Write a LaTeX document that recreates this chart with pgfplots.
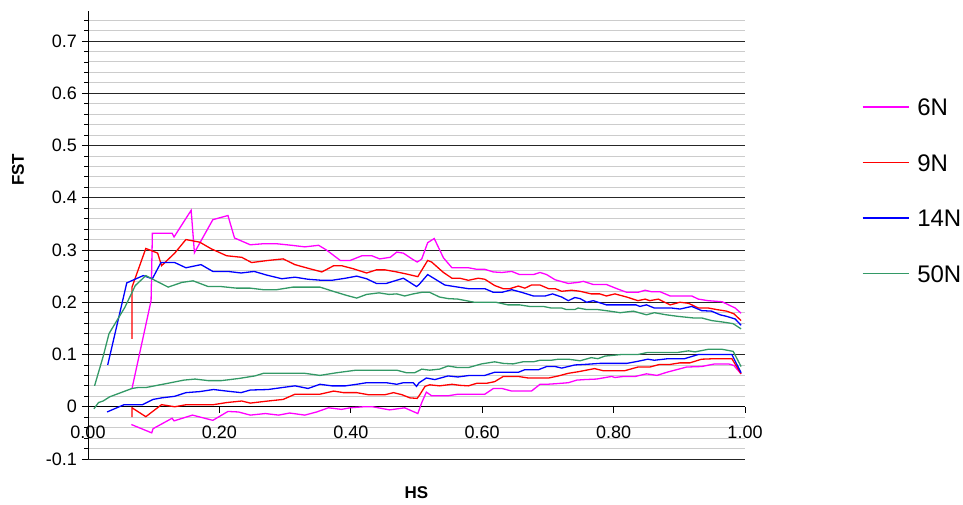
\documentclass[border=0pt]{standalone}
\usepackage{pgfplots}
\pgfplotsset{compat=1.18}
\usepackage{fontspec}
\setmainfont{Liberation Sans}
\definecolor{c6}{RGB}{255,0,255}
\definecolor{c9}{RGB}{255,0,0}
\definecolor{c14}{RGB}{0,0,255}
\definecolor{c50}{RGB}{51,153,102}
\begin{document}
\begin{tikzpicture}[x=1pt,y=1pt]
\path[use as bounding box] (0,0) rectangle (963,504);
\begin{axis}[
  at={(88pt,45pt)}, anchor=south west,
  scale only axis, width=657pt, height=448.3pt,
  xmin=0, xmax=1, ymin=-0.1, ymax=0.758,
  axis x line*=middle, axis y line*=left,
  hide obscured x ticks=false,
  xtick={0,0.2,0.4,0.6,0.8,1.0},
  ytick={-0.1,0,0.1,0.2,0.3,0.4,0.5,0.6,0.7},
  minor ytick={-0.08,-0.06,-0.04,-0.02,0.02,0.04,0.06,0.08,0.12,0.14,0.16,0.18,0.22,0.24,0.26,0.28,0.32,0.34,0.36,0.38,0.42,0.44,0.46,0.48,0.52,0.54,0.56,0.58,0.62,0.64,0.66,0.68,0.72,0.74},
  ymajorgrids, yminorgrids,
  major grid style={black!85, line width=0.8pt},
  minor grid style={black!20, line width=0.9pt},
  tick align=outside,
  major tick length=6pt, minor tick length=3.5pt,
  tick style={black, line width=0.8pt},
  axis line style={black, line width=0.8pt},
  /pgf/number format/assume math mode=true,
  ticklabel style={font=\fontsize{18}{21}\selectfont},
  xticklabel={\pgfmathprintnumber[fixed,fixed zerofill,precision=2]{\tick}},
  yticklabel={\pgfmathprintnumber[fixed]{\tick}},
  yticklabel style={anchor=east, xshift=-1.5pt},
  xticklabel style={anchor=north, yshift=-10pt},
  every axis x label/.style={at={(rel axis cs:0.5,0)}, anchor=center, yshift=-34pt, font=\bfseries\fontsize{17}{20}\selectfont},
  every axis y label/.style={at={(rel axis cs:-0.1065,0.645)}, anchor=center, rotate=90, font=\bfseries\fontsize{17}{20}\selectfont},
  xlabel={HS}, ylabel={FST},
  legend style={at={(rel axis cs:1.178,0.8046)}, anchor=north west, draw=none, fill=none, inner sep=0pt, outer sep=0pt,
    font=\fontsize{24}{28}\selectfont, row sep=38pt, column sep=8pt,
    nodes={inner sep=0pt, text height=17.5pt, text depth=0pt}},
  legend cell align=left,
  legend image code/.code={\draw[#1] (0pt,0pt) -- (46pt,0pt);},
  every axis plot/.append style={line width=1.3pt},
]
\addplot[c6] coordinates {(0.067,0.035) (0.096,0.203) (0.098,0.332) (0.128,0.332) (0.131,0.325) (0.157,0.376) (0.162,0.295) (0.190,0.358) (0.213,0.366) (0.223,0.323) (0.247,0.310) (0.267,0.312) (0.287,0.312) (0.310,0.309) (0.330,0.306) (0.351,0.309) (0.363,0.300) (0.384,0.280) (0.399,0.280) (0.417,0.289) (0.432,0.289) (0.444,0.283) (0.460,0.286) (0.470,0.296) (0.480,0.294) (0.493,0.283) (0.501,0.277) (0.505,0.280) (0.508,0.283) (0.517,0.314) (0.527,0.322) (0.541,0.285) (0.554,0.266) (0.579,0.266) (0.592,0.263) (0.604,0.263) (0.617,0.258) (0.630,0.257) (0.645,0.259) (0.657,0.253) (0.678,0.253) (0.688,0.257) (0.698,0.253) (0.711,0.243) (0.731,0.236) (0.746,0.238) (0.754,0.240) (0.769,0.234) (0.789,0.234) (0.807,0.225) (0.820,0.219) (0.837,0.219) (0.848,0.223) (0.858,0.220) (0.871,0.220) (0.886,0.212) (0.919,0.212) (0.929,0.206) (0.944,0.203) (0.965,0.201) (0.975,0.195) (0.985,0.189) (0.994,0.179)};
\addlegendentry{6N}
\addplot[c6, forget plot] coordinates {(0.066,-0.034) (0.097,-0.050) (0.099,-0.042) (0.128,-0.022) (0.131,-0.027) (0.159,-0.016) (0.190,-0.026) (0.213,-0.009) (0.229,-0.010) (0.247,-0.016) (0.270,-0.013) (0.290,-0.016) (0.307,-0.012) (0.330,-0.016) (0.348,-0.010) (0.366,-0.002) (0.386,-0.005) (0.399,-0.002) (0.420,0.000) (0.433,0.000) (0.459,-0.006) (0.482,-0.002) (0.502,-0.013) (0.508,0.008) (0.515,0.028) (0.523,0.021) (0.548,0.021) (0.563,0.024) (0.604,0.024) (0.617,0.035) (0.630,0.035) (0.645,0.030) (0.675,0.030) (0.688,0.043) (0.698,0.043) (0.711,0.044) (0.731,0.046) (0.744,0.051) (0.756,0.052) (0.774,0.053) (0.797,0.058) (0.802,0.056) (0.815,0.058) (0.833,0.058) (0.850,0.063) (0.866,0.060) (0.881,0.066) (0.896,0.071) (0.911,0.076) (0.934,0.077) (0.954,0.082) (0.975,0.082) (0.983,0.079) (0.994,0.063)};
\addplot[c9] coordinates {(0.067,0.130) (0.067,0.229) (0.088,0.303) (0.106,0.294) (0.112,0.270) (0.132,0.294) (0.149,0.320) (0.170,0.315) (0.188,0.302) (0.211,0.289) (0.234,0.286) (0.249,0.276) (0.274,0.280) (0.297,0.283) (0.315,0.272) (0.335,0.265) (0.356,0.258) (0.374,0.270) (0.386,0.270) (0.404,0.264) (0.424,0.256) (0.439,0.262) (0.452,0.262) (0.470,0.258) (0.485,0.254) (0.502,0.249) (0.517,0.280) (0.523,0.277) (0.541,0.257) (0.554,0.246) (0.566,0.246) (0.579,0.242) (0.594,0.246) (0.604,0.244) (0.619,0.232) (0.632,0.226) (0.642,0.226) (0.655,0.231) (0.665,0.227) (0.675,0.233) (0.688,0.233) (0.701,0.226) (0.711,0.226) (0.721,0.221) (0.736,0.223) (0.749,0.221) (0.766,0.216) (0.779,0.216) (0.789,0.212) (0.802,0.216) (0.820,0.210) (0.837,0.203) (0.848,0.206) (0.855,0.203) (0.868,0.206) (0.886,0.195) (0.901,0.200) (0.914,0.198) (0.929,0.189) (0.944,0.189) (0.957,0.186) (0.972,0.183) (0.983,0.178) (0.994,0.165)};
\addlegendentry{9N}
\addplot[c9, forget plot] coordinates {(0.067,-0.020) (0.067,-0.002) (0.088,-0.019) (0.112,0.004) (0.132,0.000) (0.150,0.004) (0.191,0.004) (0.211,0.008) (0.234,0.011) (0.247,0.007) (0.274,0.011) (0.297,0.014) (0.315,0.024) (0.353,0.024) (0.374,0.030) (0.389,0.027) (0.409,0.027) (0.427,0.023) (0.452,0.023) (0.465,0.027) (0.478,0.023) (0.490,0.017) (0.501,0.016) (0.505,0.023) (0.513,0.039) (0.520,0.042) (0.535,0.040) (0.554,0.043) (0.566,0.041) (0.579,0.040) (0.592,0.045) (0.607,0.045) (0.619,0.048) (0.632,0.058) (0.655,0.058) (0.670,0.055) (0.701,0.055) (0.716,0.059) (0.731,0.064) (0.746,0.067) (0.771,0.073) (0.784,0.069) (0.817,0.069) (0.837,0.076) (0.855,0.076) (0.870,0.081) (0.886,0.081) (0.901,0.084) (0.916,0.084) (0.934,0.091) (0.954,0.092) (0.980,0.092) (0.994,0.063)};
\addplot[c14] coordinates {(0.030,0.080) (0.059,0.237) (0.084,0.251) (0.098,0.245) (0.111,0.276) (0.132,0.276) (0.149,0.266) (0.172,0.272) (0.190,0.259) (0.213,0.259) (0.233,0.256) (0.253,0.259) (0.272,0.252) (0.295,0.245) (0.315,0.248) (0.335,0.244) (0.356,0.242) (0.371,0.242) (0.392,0.246) (0.409,0.250) (0.424,0.245) (0.439,0.236) (0.454,0.236) (0.480,0.246) (0.500,0.230) (0.504,0.234) (0.517,0.253) (0.543,0.233) (0.563,0.229) (0.579,0.226) (0.604,0.226) (0.617,0.219) (0.630,0.219) (0.645,0.224) (0.660,0.219) (0.678,0.212) (0.696,0.212) (0.707,0.216) (0.721,0.210) (0.731,0.203) (0.741,0.209) (0.749,0.207) (0.759,0.200) (0.769,0.203) (0.789,0.195) (0.834,0.195) (0.840,0.192) (0.850,0.195) (0.862,0.189) (0.888,0.189) (0.901,0.187) (0.919,0.192) (0.934,0.184) (0.949,0.183) (0.962,0.176) (0.972,0.173) (0.985,0.168) (0.994,0.156)};
\addlegendentry{14N}
\addplot[c14, forget plot] coordinates {(0.029,-0.010) (0.055,0.004) (0.083,0.004) (0.099,0.014) (0.112,0.017) (0.132,0.020) (0.149,0.027) (0.170,0.029) (0.191,0.033) (0.211,0.030) (0.233,0.027) (0.247,0.032) (0.274,0.033) (0.297,0.037) (0.315,0.040) (0.335,0.035) (0.353,0.043) (0.371,0.040) (0.392,0.040) (0.409,0.043) (0.424,0.046) (0.454,0.046) (0.470,0.043) (0.480,0.046) (0.495,0.046) (0.500,0.039) (0.504,0.046) (0.515,0.055) (0.528,0.052) (0.548,0.059) (0.563,0.057) (0.581,0.060) (0.604,0.060) (0.619,0.066) (0.655,0.066) (0.665,0.071) (0.686,0.071) (0.698,0.077) (0.711,0.077) (0.721,0.074) (0.741,0.080) (0.756,0.081) (0.779,0.083) (0.820,0.083) (0.837,0.087) (0.852,0.091) (0.862,0.089) (0.883,0.092) (0.908,0.092) (0.929,0.100) (0.980,0.100) (0.994,0.065)};
\addplot[c50] coordinates {(0.010,0.040) (0.023,0.096) (0.032,0.140) (0.056,0.190) (0.072,0.232) (0.088,0.251) (0.097,0.245) (0.122,0.229) (0.143,0.238) (0.160,0.241) (0.183,0.230) (0.203,0.230) (0.226,0.227) (0.247,0.227) (0.267,0.224) (0.287,0.224) (0.312,0.229) (0.353,0.229) (0.373,0.221) (0.394,0.213) (0.409,0.208) (0.424,0.215) (0.443,0.218) (0.458,0.215) (0.470,0.216) (0.482,0.212) (0.495,0.216) (0.508,0.219) (0.520,0.219) (0.535,0.210) (0.548,0.207) (0.563,0.206) (0.588,0.200) (0.621,0.200) (0.639,0.195) (0.657,0.195) (0.672,0.192) (0.693,0.192) (0.705,0.189) (0.721,0.189) (0.728,0.186) (0.741,0.186) (0.746,0.189) (0.759,0.186) (0.776,0.186) (0.794,0.183) (0.810,0.180) (0.830,0.183) (0.850,0.176) (0.862,0.180) (0.880,0.176) (0.898,0.173) (0.921,0.170) (0.934,0.170) (0.949,0.165) (0.967,0.162) (0.982,0.159) (0.994,0.149)};
\addlegendentry{50N}
\addplot[c50, forget plot] coordinates {(0.009,-0.004) (0.016,0.008) (0.023,0.011) (0.033,0.019) (0.067,0.035) (0.077,0.037) (0.089,0.037) (0.122,0.045) (0.146,0.051) (0.163,0.053) (0.183,0.050) (0.203,0.050) (0.229,0.054) (0.254,0.059) (0.267,0.064) (0.330,0.064) (0.353,0.060) (0.378,0.065) (0.408,0.070) (0.470,0.070) (0.485,0.065) (0.497,0.065) (0.508,0.072) (0.520,0.070) (0.535,0.072) (0.548,0.078) (0.563,0.075) (0.579,0.075) (0.599,0.082) (0.619,0.086) (0.632,0.083) (0.647,0.082) (0.662,0.086) (0.678,0.086) (0.688,0.089) (0.705,0.089) (0.716,0.091) (0.731,0.091) (0.749,0.088) (0.766,0.094) (0.776,0.092) (0.787,0.097) (0.812,0.100) (0.837,0.100) (0.852,0.104) (0.898,0.104) (0.914,0.107) (0.924,0.105) (0.944,0.110) (0.965,0.110) (0.982,0.106) (0.994,0.077)};
\end{axis}
\end{tikzpicture}
\end{document}
